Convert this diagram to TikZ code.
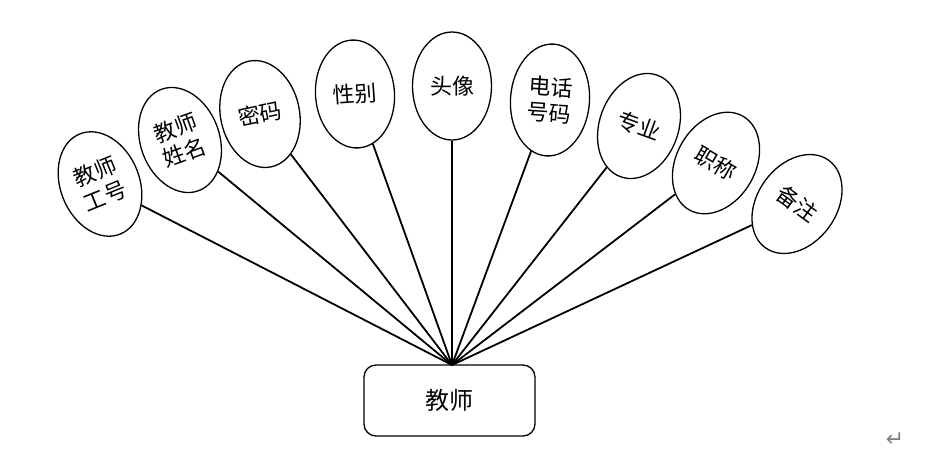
\documentclass[tikz,border=0pt]{standalone}
\usepackage{fontspec}
\newfontfamily\cjk{Noto Sans CJK SC}
\newfontfamily\symb{DejaVu Sans}
\usetikzlibrary{shapes.geometric}
\begin{document}
\begin{tikzpicture}[x=1pt,y=-1pt,
  attr/.style={ellipse,draw,line width=1.3pt,minimum width=79pt,minimum height=108pt,inner sep=0pt,
    align=center,font=\cjk\fontsize{22pt}{26pt}\selectfont,fill=white},
  ent/.style={rectangle,draw,line width=1.3pt,rounded corners=12pt,minimum width=171pt,minimum height=71pt,
    font=\cjk\fontsize{24pt}{28pt}\selectfont},
  link/.style={line width=1.8pt}]
\useasboundingbox (0,0) rectangle (936,459);
\node[ent] (t) at (449.5,400.5) {教师};
\coordinate (hub) at (452,365);
\node[attr,rotate=22] (a1) at (100,184) {教师\\工号};
\node[attr,rotate=20] (a2) at (180,140) {教师\\姓名};
\node[attr,rotate=12] (a3) at (260,114) {密码};
\node[attr,rotate=4] (a4) at (355,94) {性别};
\node[attr,rotate=0] (a5) at (452,86) {头像};
\node[attr,rotate=-4,minimum height=112pt] (a6) at (550,100) {电话\\号码};
\node[attr,rotate=-20] (a7) at (639,126) {专业};
\node[attr,rotate=-30] (a8) at (716,163) {职称};
\node[attr,rotate=-36] (a9) at (797,204) {备注};
\foreach \i in {1,...,9} \draw[link] (hub) -- (a\i);
\node[text=gray,font=\symb\fontsize{22pt}{22pt}\selectfont] (ret) at (895,440) {↵};
\end{tikzpicture}
\end{document}
